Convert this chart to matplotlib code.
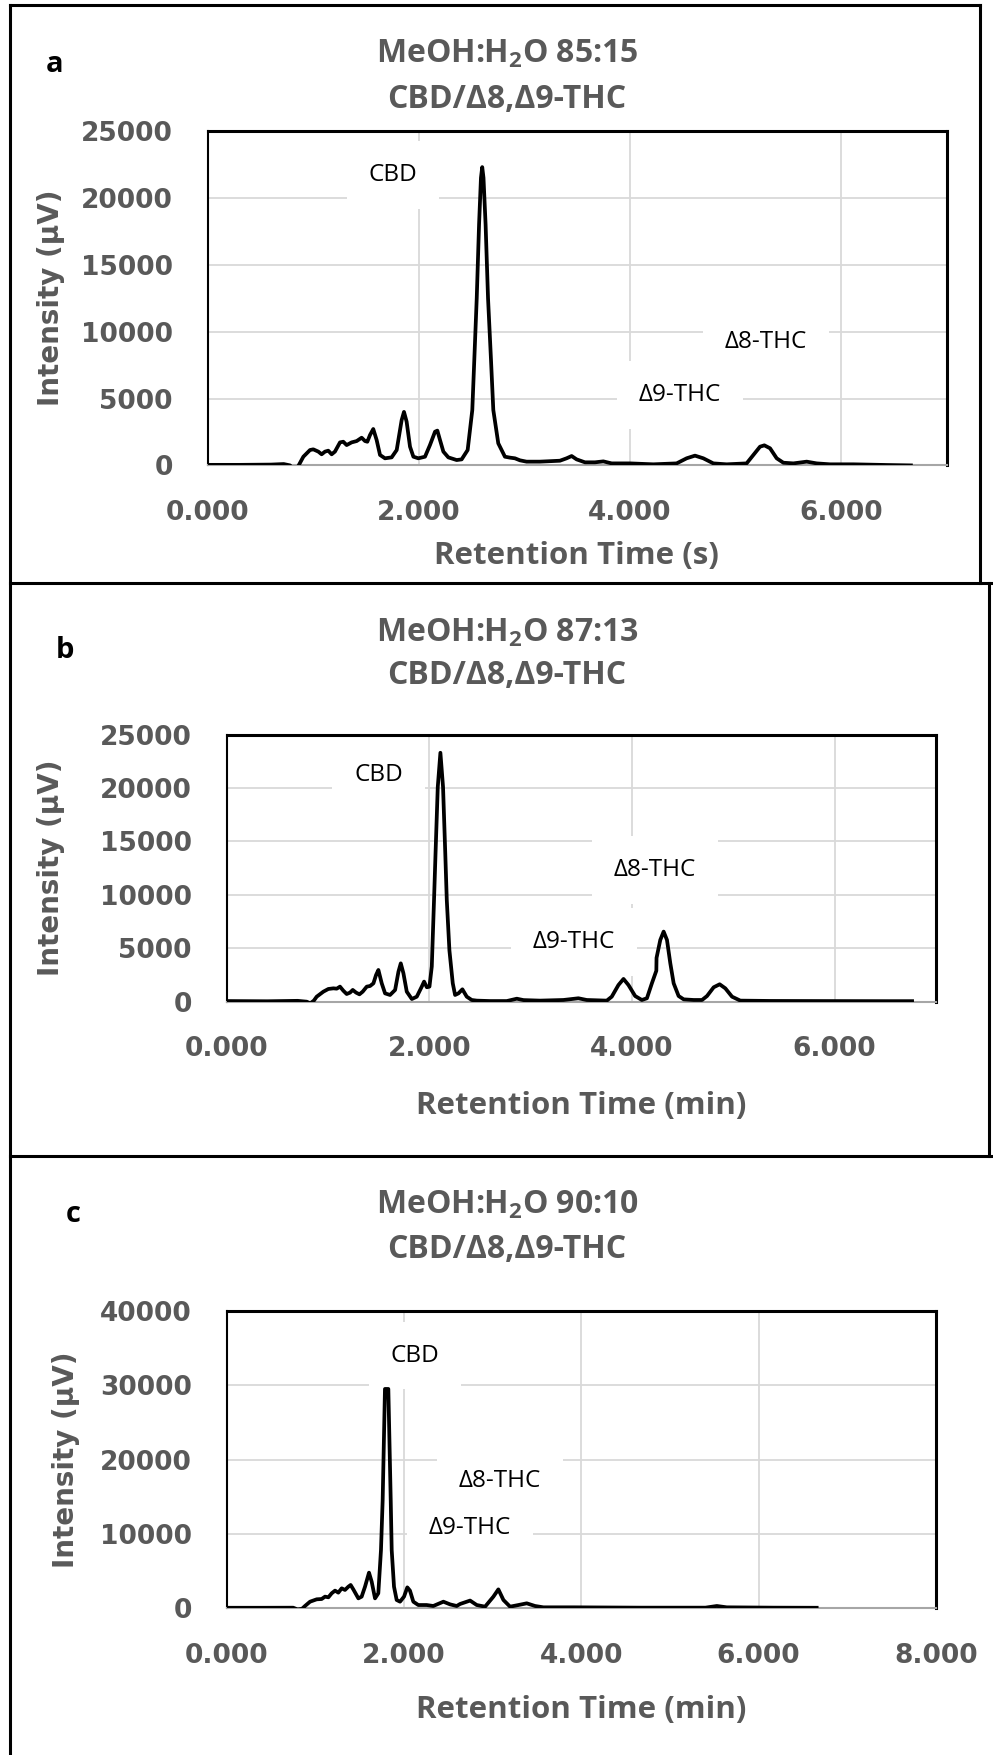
import matplotlib.pyplot as plt
from matplotlib.lines import Line2D

plt.rcParams["mathtext.fontset"] = "custom"
plt.rcParams["mathtext.rm"] = "Open Sans:bold"
plt.rcParams["mathtext.bf"] = "Open Sans:bold"

# chromatogram traces (time, intensity in uV)
ta = [0.0, 0.30, 0.60, 0.72, 0.78, 0.81, 0.858, 0.906, 0.969, 1.000, 1.048, 1.079, 1.111, 1.142, 1.174,
      1.205, 1.253, 1.284, 1.316, 1.363, 1.411, 1.458, 1.490, 1.512, 1.537, 1.568, 1.600, 1.632, 1.679,
      1.742, 1.790, 1.837, 1.859, 1.884, 1.916, 1.948, 1.995, 2.058, 2.105, 2.153, 2.175, 2.200, 2.232,
      2.279, 2.358, 2.405, 2.462, 2.506, 2.525, 2.548, 2.570, 2.588, 2.600, 2.612, 2.632, 2.655, 2.683,
      2.705, 2.752, 2.815, 2.863, 2.910, 2.957, 3.020, 3.146, 3.336, 3.399, 3.447, 3.494, 3.573, 3.668,
      3.747, 3.826, 4.000, 4.220, 4.441, 4.536, 4.615, 4.694, 4.789, 4.915, 5.104, 5.168, 5.231, 5.272,
      5.326, 5.389, 5.452, 5.547, 5.673, 5.768, 5.894, 6.115, 6.431, 6.660]
Ia = [40, 40, 60, 100, 0, -300, -50, 650, 1150, 1200, 1030, 830, 1030, 1100, 830,
      1030, 1720, 1770, 1520, 1720, 1820, 2070, 1820, 1770, 2270, 2720, 1900, 780, 530,
      600, 1150, 3390, 4000, 3270, 1400, 650, 530, 650, 1520, 2520, 2600, 1900, 1030,
      600, 400, 450, 1150, 4140, 7900, 12500, 18000, 21500, 22300, 21500, 18000, 12500, 7900,
      4140, 1650, 650, 580, 530, 380, 280, 280, 350, 530, 700, 450, 230, 230,
      300, 150, 150, 80, 150, 530, 730, 530, 150, 80, 150, 780, 1400, 1500,
      1280, 530, 200, 150, 280, 150, 80, 80, 30, 0]

tb = [0.0, 0.40, 0.70, 0.79, 0.825, 0.86, 0.888, 0.954, 1.003, 1.053, 1.086, 1.118, 1.151, 1.184, 1.217,
      1.244, 1.277, 1.310, 1.342, 1.382, 1.415, 1.448, 1.474, 1.497, 1.530, 1.563, 1.612, 1.662, 1.695,
      1.718, 1.744, 1.777, 1.827, 1.876, 1.925, 1.948, 1.975, 2.001, 2.024, 2.046, 2.061, 2.083, 2.109,
      2.135, 2.157, 2.172, 2.198, 2.231, 2.254, 2.287, 2.326, 2.369, 2.418, 2.468, 2.599, 2.764, 2.863,
      2.929, 3.093, 3.323, 3.471, 3.553, 3.751, 3.800, 3.866, 3.916, 3.965, 4.031, 4.097, 4.147, 4.196,
      4.240, 4.242, 4.279, 4.312, 4.345, 4.378, 4.411, 4.460, 4.510, 4.608, 4.691, 4.740, 4.806, 4.865,
      4.921, 4.987, 5.069, 5.365, 5.859, 6.517, 6.764]
Ib = [60, 40, 80, 0, -150, 100, 470, 940, 1190, 1250, 1220, 1410, 1030, 720, 850,
      1100, 850, 690, 940, 1410, 1470, 1720, 2500, 2970, 1720, 780, 630, 1100, 2810,
      3590, 2660, 940, 250, 470, 1410, 1880, 1350, 1410, 3300, 9500, 13900, 20100, 23300,
      20100, 13900, 9500, 4800, 1720, 630, 780, 1160, 470, 160, 100, 60, 60, 280,
      150, 100, 160, 320, 160, 100, 470, 1560, 2130, 1560, 530, 160, 320, 1720,
      2900, 4100, 5780, 6560, 5780, 3590, 1720, 530, 220, 160, 160, 530, 1350, 1630,
      1250, 470, 100, 70, 60, 50, 50]

tc = [0.0, 0.40, 0.75, 0.80, 0.85, 0.883, 0.940, 1.015, 1.071, 1.109, 1.147, 1.184, 1.222, 1.259, 1.297,
      1.334, 1.372, 1.398, 1.428, 1.485, 1.522, 1.560, 1.605, 1.635, 1.673, 1.710, 1.740, 1.759, 1.785,
      1.823, 1.850, 1.861, 1.887, 1.917, 1.955, 2.000, 2.037, 2.067, 2.105, 2.161, 2.255, 2.330, 2.444,
      2.519, 2.594, 2.632, 2.745, 2.820, 2.914, 3.008, 3.064, 3.121, 3.196, 3.290, 3.384, 3.478, 3.572,
      3.911, 4.663, 5.400, 5.528, 5.640, 6.170, 6.654]
Ic = [30, 30, 40, -200, -100, 270, 850, 1170, 1210, 1530, 1440, 1980, 2340, 2070, 2650,
      2430, 2870, 3100, 2510, 1300, 1530, 2870, 4760, 3550, 1300, 1980, 7800, 14500, 29500,
      29500, 14500, 7800, 2870, 1080, 850, 1530, 2780, 2340, 850, 400, 400, 270, 850,
      490, 270, 540, 1000, 400, 180, 1530, 2510, 1080, 180, 400, 630, 270, 90,
      90, 45, 45, 270, 90, 45, 30]

panels = ["a", "b", "c"]
ratios = ["85:15", "87:13", "90:10"]
xlabels = ["Retention Time (s)", "Retention Time (min)", "Retention Time (min)"]
xmax = [7, 7, 8]
xticks = [[0, 2, 4, 6], [0, 2, 4, 6], [0, 2, 4, 6, 8]]
ymax = [25000, 25000, 40000]
yticks = [list(range(0, 25001, 5000)), list(range(0, 25001, 5000)), list(range(0, 40001, 10000))]
peak_names = ["CBD", "\u03948-THC", "\u03949-THC"]
label_pos = [
    [(1.755, 21700), (5.287, 9230), (4.473, 5260)],
    [(1.497, 21240), (4.228, 12330), (3.430, 5590)],
    [(2.125, 34000), (3.083, 17100), (2.744, 10780)],
]
traces = [(ta, Ia), (tb, Ib), (tc, Ic)]

GREY = "#595959"
W, H = 993, 1755


def fx(px):
    return px / W


def fy(py):
    return 1 - py / H


# pixel layout of each panel
axes_box = [(207.7, 946.8, 131, 465.4), (226.7, 936, 734.6, 1001.7), (226.7, 936, 1311, 1608)]
title_y = [(54, 99), (633, 676), (1205, 1250)]
letter_xy = [(55, 65), (65, 650), (73, 1214)]
xlabel_xy = [(576, 556), (581, 1106), (581, 1710)]
ylabel_x = [51, 51, 66]

fig = plt.figure(figsize=(W / 100, H / 100), dpi=100)
fam = ["Open Sans", "DejaVu Sans"]

for i in range(3):
    l, r, t, b = axes_box[i]
    ax = fig.add_axes([fx(l), fy(b), (r - l) / W, (b - t) / H])
    x, y = traces[i]
    ax.plot(x, y, color="black", lw=2.7, solid_joinstyle="round", zorder=3)
    ax.set_xlim(0, xmax[i])
    ax.set_ylim(0, ymax[i])
    ax.set_xticks(xticks[i])
    ax.set_xticklabels([f"{v:.3f}" for v in xticks[i]])
    ax.set_yticks(yticks[i])
    ax.set_yticklabels([str(v) for v in yticks[i]])
    ax.grid(True, color="#D9D9D9", lw=1.3)
    ax.set_axisbelow(True)
    ax.tick_params(length=0, pad=25, labelsize=19, labelcolor=GREY)
    for lab in ax.get_xticklabels() + ax.get_yticklabels():
        lab.set_fontweight("bold")
        lab.set_family("DejaVu Sans")
    for side in ["top", "right", "left"]:
        ax.spines[side].set_color("black")
        ax.spines[side].set_linewidth(2.2)
    ax.spines["left"].set_linewidth(1.5)
    ax.spines["bottom"].set_color("#A6A6A6")
    ax.spines["bottom"].set_linewidth(1.5)

    for name, (px, py) in zip(peak_names, label_pos[i]):
        ax.text(px, py, name, ha="center", va="center", fontsize=17.5, family=fam, zorder=1,
                bbox=dict(boxstyle="square,pad=0.9", fc="white", ec="none"))

    fig.text(fx(ylabel_x[i]), fy((t + b) / 2), "Intensity (\u00b5V)", rotation=90, ha="center",
             va="center", fontsize=20, fontweight="bold", color=GREY, family="DejaVu Sans")
    fig.text(fx(507), fy(title_y[i][0]), "MeOH:H$_2$O " + ratios[i], ha="center", va="center",
             fontsize=23, fontweight="bold", color=GREY, family=fam)
    fig.text(fx(507), fy(title_y[i][1]), "CBD/\u03948,\u03949-THC", ha="center", va="center",
             fontsize=23, fontweight="bold", color=GREY, family=fam)
    fig.text(fx(letter_xy[i][0]), fy(letter_xy[i][1]), panels[i], ha="center", va="center",
             fontsize=21, fontweight="bold", color="black", family=fam)
    fig.text(fx(xlabel_xy[i][0]), fy(xlabel_xy[i][1]), xlabels[i], ha="center", va="center",
             fontsize=22.5, fontweight="bold", color=GREY, family=fam)

# panel frames
frame = [((9.5, 980), (4.5, 4.5)), ((9.5, 9.5), (4.5, 1755)), ((980, 980), (4.5, 583)),
         ((9.5, 993), (583, 583)), ((989, 989), (583, 1156)), ((9.5, 993), (1156, 1156))]
for xs, ys in frame:
    fig.add_artist(Line2D([fx(v) for v in xs], [fy(v) for v in ys], color="black", lw=2.2,
                          transform=fig.transFigure))

fig.savefig("out.png", dpi=100)
